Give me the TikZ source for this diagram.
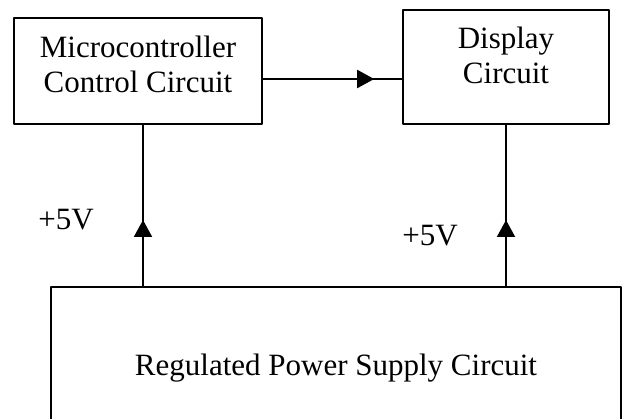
\documentclass[tikz,border=0pt]{standalone}
\usepackage{fontspec}
\setmainfont{Liberation Serif}
\usetikzlibrary{arrows.meta,decorations.markings}
\tikzset{
  blk/.style={draw, line width=1pt, inner sep=0pt},
  txt/.style={font=\fontsize{15.5}{17.3}\selectfont, align=center, inner sep=0pt},
  midarr/.style={line width=1pt, postaction={decorate},
    decoration={markings, mark=at position #1 with {\arrow{Triangle[length=8.5pt,width=9pt]}}}}
}
\begin{document}
\begin{tikzpicture}[x=0.5pt, y=-0.5pt, line join=round]
	\useasboundingbox (0,0) rectangle (625,418);
	\clip (0,0) rectangle (625,418);
	\node[blk, minimum width=124pt, minimum height=53pt] (mcu) at (138,71) {};
	\node[blk, minimum width=103pt, minimum height=57pt] (disp) at (506,67) {};
	\node[blk, minimum width=285pt, minimum height=80pt] (pwr) at (336,367) {};
	\node[txt, anchor=base] (mcutxt) at (138,92) {Microcontroller\\Control Circuit};
	\node[txt, anchor=base] (disptxt) at (506,83) {Display\\Circuit};
	\node[txt, anchor=base] (pwrtxt) at (336,375) {Regulated Power Supply Circuit};
	\node[txt, anchor=base west] (vA) at (38,229) {+5V};
	\node[txt, anchor=base west] (vB) at (402,245) {+5V};
	\draw[midarr=0.8] ([yshift=-4pt]mcu.east) -- ([yshift=-4pt]mcu.east -| disp.west);
	\draw[midarr=0.41] ([xshift=2.5pt]mcu.south |- pwr.north) -- ([xshift=2.5pt]mcu.south);
	\draw[midarr=0.41] (disp.south |- pwr.north) -- (disp.south);
\end{tikzpicture}
\end{document}
